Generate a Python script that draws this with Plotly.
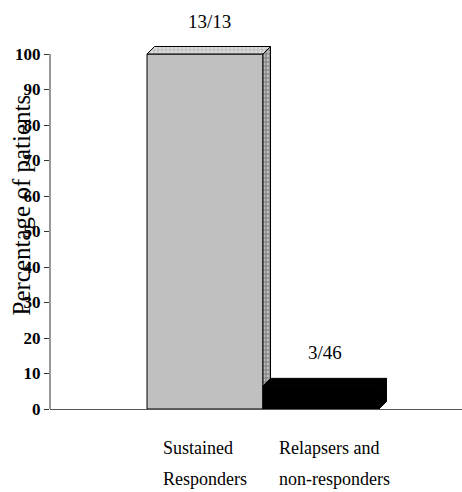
import plotly.graph_objects as go

# ---- data ----
categories = ["Sustained<br>Responders", "Relapsers and<br>non-responders"]
values = [100, 6.52]
fractions = ["13/13", "3/46"]
y_ticks = [0, 10, 20, 30, 40, 50, 60, 70, 80, 90, 100]

# ---- style ----
front_colors = ["#c0c0c0", "#000000"]
top_colors = ["#c4c4c4", "#000000"]
side_colors = ["#8a8a8a", "#000000"]
FONT = "'Liberation Serif', 'Times New Roman', Times, serif"

W, H = 462, 492
ML, MR, MT, MB = 50, 0, 10, 83
plot_w = W - ML - MR
plot_h = H - MT - MB
px_per_unit_y = 3.55
px_per_unit_x = 116.0
y_max = plot_h / px_per_unit_y
x_left = -(205 - ML) / px_per_unit_x
x_right = x_left + plot_w / px_per_unit_x

depth_px = 7.5
dx = depth_px / px_per_unit_x
dy = depth_px / px_per_unit_y

fig = go.Figure()

for i, v in enumerate(values):
    a, b = i - 0.5, i + 0.5
    patterned = front_colors[i] != "#000000"
    # front face
    fig.add_trace(go.Scatter(
        x=[a, b, b, a, a], y=[0, 0, v, v, 0], mode="lines", fill="toself",
        fillcolor=front_colors[i], line=dict(color="black", width=1),
        hoverinfo="skip", showlegend=False))
    # top face
    top = dict(
        x=[a, b, b + dx, a + dx, a], y=[v, v, v + dy, v + dy, v], mode="lines",
        fill="toself", fillcolor=top_colors[i], line=dict(color="black", width=1),
        hoverinfo="skip", showlegend=False)
    if patterned:
        top["fillpattern"] = dict(shape=".", fgcolor="#f4f4f4", bgcolor=top_colors[i],
                                  size=4, solidity=0.4)
    fig.add_trace(go.Scatter(**top))
    # side face
    side = dict(
        x=[b, b + dx, b + dx, b, b], y=[0, dy, v + dy, v, 0], mode="lines",
        fill="toself", fillcolor=side_colors[i], line=dict(color="black", width=1),
        hoverinfo="skip", showlegend=False)
    if patterned:
        side["fillpattern"] = dict(shape=".", fgcolor="#eeeeee", bgcolor=side_colors[i],
                                   size=4, solidity=0.4)
    fig.add_trace(go.Scatter(**side))

annotations = []
for i, v in enumerate(values):
    annotations.append(dict(
        x=i, y=v, xref="x", yref="y", text=fractions[i], showarrow=False,
        xshift=4, yshift=33, yanchor="middle", xanchor="center",
        font=dict(family=FONT, size=19, color="black")))
    for j, line in enumerate(categories[i].split("<br>")):
        annotations.append(dict(
            x=i - 0.5, y=0, xref="x", yref="y", text=line, showarrow=False,
            xanchor="left", yanchor="middle", xshift=14, yshift=-39 - 31 * j,
            font=dict(family=FONT, size=18, color="black")))

annotations.append(dict(
    x=-0.068, y=57.6, xref="paper", yref="y", text="Percentage of patients",
    textangle=-90, showarrow=False, xanchor="center", yanchor="middle",
    font=dict(family=FONT, size=25, color="black")))

fig.update_layout(
    width=W, height=H,
    margin=dict(l=ML, r=MR, t=MT, b=MB),
    paper_bgcolor="white", plot_bgcolor="white",
    showlegend=False,
    font=dict(family=FONT),
    annotations=annotations,
    shapes=[dict(type="line", xref="paper", yref="y", x0=0, x1=0, y0=-1.3, y1=100,
                 line=dict(color="#333333", width=1))],
    xaxis=dict(range=[x_left, x_right], showticklabels=False, ticks="",
               showgrid=False, zeroline=False, showline=True,
               linecolor="#555555", linewidth=1),
    yaxis=dict(range=[0, y_max], tickvals=y_ticks, ticks="outside", ticklen=5,
               tickcolor="#333333", showgrid=False, zeroline=False, showline=False,
               tickfont=dict(family=FONT, size=17, color="black", weight="bold")),
)

fig.write_html("out.html")
